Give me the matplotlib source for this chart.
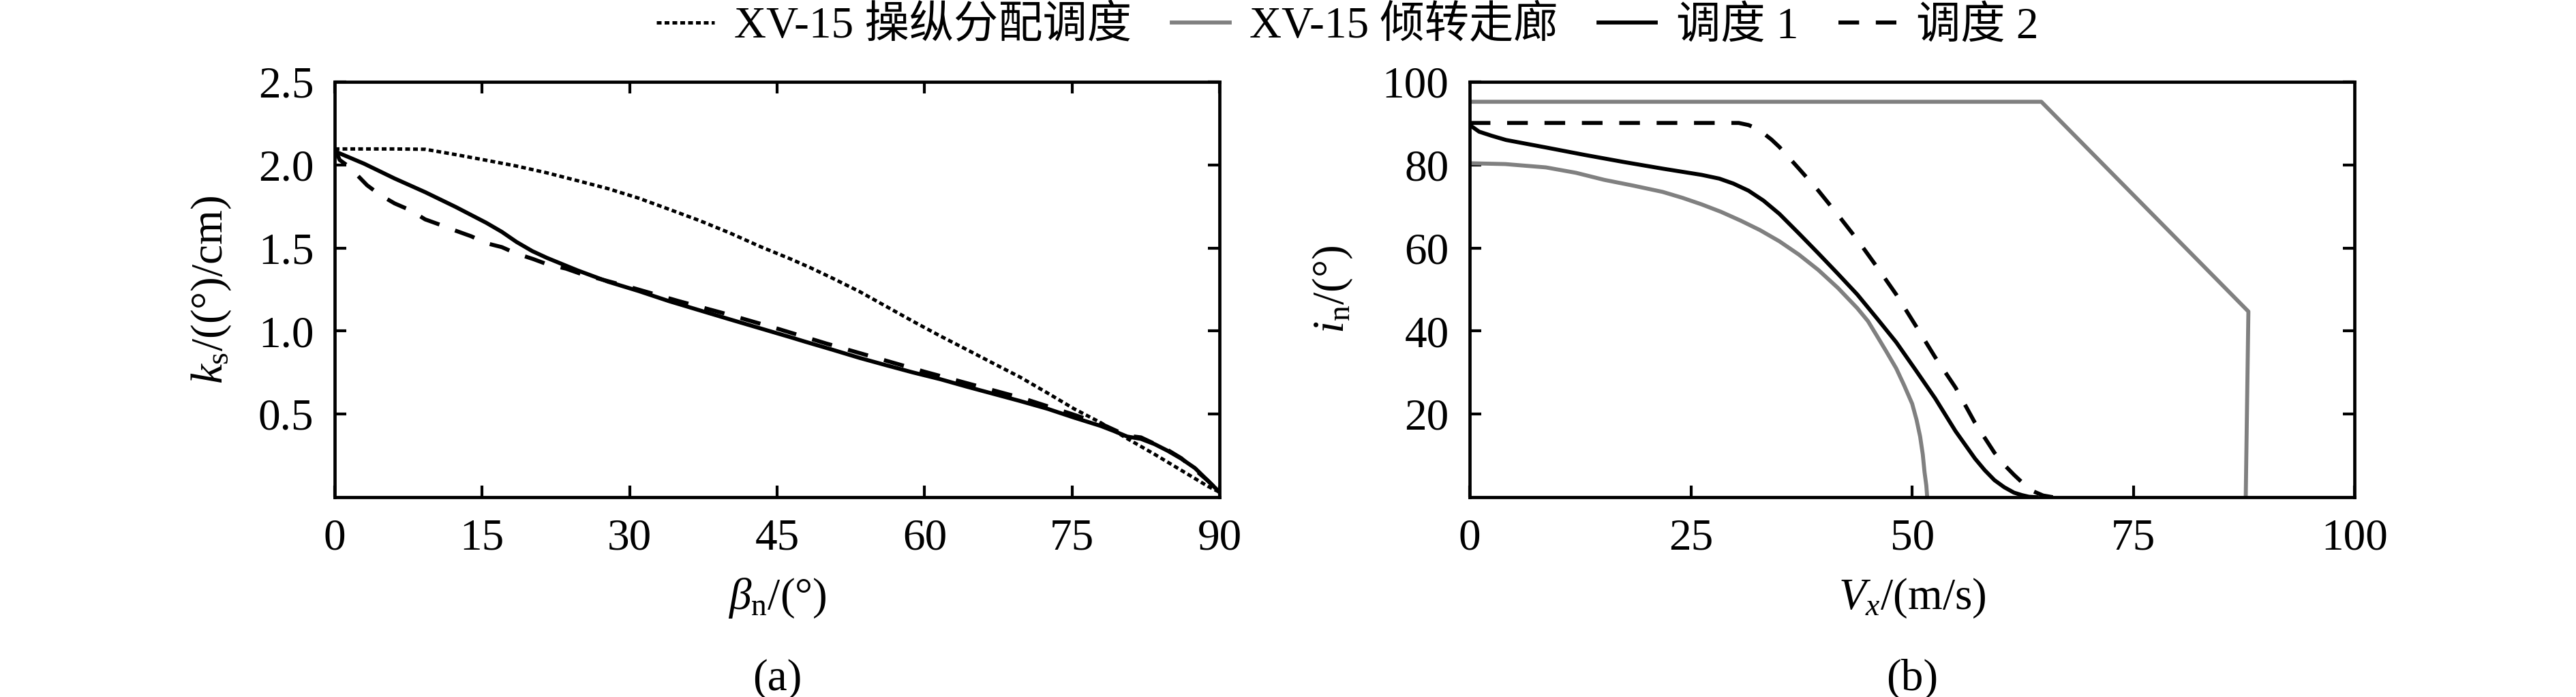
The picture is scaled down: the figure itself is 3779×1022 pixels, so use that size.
import matplotlib
matplotlib.use("Agg")
import matplotlib.pyplot as plt

plt.rcParams['font.family'] = ['Liberation Serif', 'Noto Sans CJK SC', 'DejaVu Sans']
plt.rcParams['mathtext.fontset'] = 'custom'
plt.rcParams['mathtext.rm'] = 'Liberation Serif'
plt.rcParams['mathtext.it'] = 'Liberation Serif:italic'

# (a) ks vs beta_n
beta_xv = [0, 3, 6, 9.2, 12.3, 15.4, 18.5, 21.6, 24.7, 27.8, 30.9, 34, 37.1, 40.2, 43.3, 46.4,
           48.5, 50.6, 53.4, 56.1, 58.8, 61.6, 64.3, 67, 69.7, 72.5, 75.2, 77.9, 80.6, 83.4,
           86.1, 88.8, 90]
ks_xv = [2.096, 2.096, 2.096, 2.094, 2.062, 2.028, 1.993, 1.952, 1.905, 1.857, 1.80, 1.733, 1.665,
         1.59, 1.508, 1.433, 1.378, 1.319, 1.237, 1.148, 1.059, 0.97, 0.888, 0.805, 0.723, 0.627,
         0.532, 0.449, 0.353, 0.258, 0.162, 0.066, 0.03]

beta_s1 = [0, 3, 6.1, 9.2, 12.3, 15.4, 17, 18.5, 20.1, 21.6, 24.7, 27.8, 30.9, 34, 37.1, 40.2,
           43.3, 46.4, 47.9, 50.6, 53.4, 56.1, 58.8, 61.6, 64.3, 67, 69.7, 72.5, 75.2, 77.9,
           79.3, 80.6, 82, 83.4, 84.7, 86.1, 87.5, 88.8, 90]
ks_s1 = [2.082, 2.007, 1.918, 1.836, 1.747, 1.652, 1.597, 1.536, 1.481, 1.44, 1.365, 1.297, 1.241,
         1.18, 1.125, 1.07, 1.016, 0.962, 0.935, 0.888, 0.838, 0.794, 0.751, 0.71, 0.665, 0.622,
         0.579, 0.532, 0.479, 0.429, 0.397, 0.365, 0.351, 0.319, 0.28, 0.232, 0.175, 0.10, 0.03]

beta_s2 = [0, 0.5, 1.2, 2.1, 3.3, 4.7, 6.1, 7.7, 9.2, 10.8, 12.3, 13.9, 15.4, 17, 18.5, 20.2,
           21.7, 23.5, 25, 30, 35, 40, 45, 50, 55, 60, 65, 70, 75, 78, 80.6, 82, 84.7, 86.1,
           88.8, 90]
ks_s2 = [2.10, 2.03, 2.00, 1.95, 1.877, 1.816, 1.768, 1.727, 1.672, 1.638, 1.604, 1.57, 1.529,
         1.505, 1.466, 1.433, 1.40, 1.376, 1.345, 1.265, 1.18, 1.10, 1.015, 0.925, 0.84, 0.755,
         0.675, 0.595, 0.50, 0.44, 0.37, 0.36, 0.285, 0.235, 0.10, 0.03]

# (b) i_n vs Vx
vx_cor_hi = [0, 64.6, 88, 87.7]
in_cor_hi = [95.2, 95.2, 44.7, 0]
vx_cor_lo = [0, 4, 8.6, 12, 15.2, 18.5, 21.8, 24, 26.2, 28.4, 30.6, 32.8, 35, 37.2, 39.4, 41.6,
             43.8, 45, 46, 47.1, 48.2, 49.1, 50, 50.5, 50.9, 51.2, 51.4, 51.6, 51.7]
in_cor_lo = [80.4, 80.2, 79.4, 78.1, 76.4, 75.0, 73.5, 72.1, 70.5, 68.7, 66.6, 64.3, 61.6, 58.4,
             54.7, 50.4, 45.5, 42.4, 38.9, 35.0, 31.0, 26.9, 22.5, 18.6, 14.6, 10.3, 6.0, 2.8, 0]

vx_s1 = [0, 1.06, 2.5, 4.1, 8.6, 13, 17.4, 21.8, 26.2, 28.2, 29.8, 31.5, 33.2, 35, 37.2, 39.4,
         41.6, 43.8, 46, 48.2, 50.4, 52.6, 54.9, 57.1, 58.2, 59.3, 60.4, 61.5, 62.4, 63.2, 64]
in_s1 = [89.6, 88, 87, 86, 84.2, 82.4, 80.7, 79.1, 77.6, 76.7, 75.5, 73.8, 71.4, 68.2, 63.5, 58.7,
         53.8, 48.8, 43.1, 37.3, 30.6, 23.8, 15.9, 9.3, 6.5, 4.1, 2.4, 1.1, 0.5, 0.1, 0]

vx_s2 = [0, 30.4, 31.5, 32.4, 33.2, 34.1, 35, 37.2, 39.4, 41.6, 43.8, 46, 48.2, 50.4, 52.6, 54.9,
         57.1, 59.3, 60.4, 61.5, 62.6, 63.7, 64.8, 65.9]
in_s2 = [90.1, 90.1, 89.6, 88.8, 87.6, 86.1, 84.3, 79.1, 73.8, 68.0, 62, 55.5, 48.8, 41.3, 33.7,
         26.4, 17.9, 10.7, 7.8, 5.4, 3.2, 1.4, 0.4, 0]

labels = ['XV-15 操纵分配调度', 'XV-15 倾转走廊', '调度 1', '调度 2']
gray = '#808080'
lw = 4.2
fs = 47

fig = plt.figure(figsize=(37.8, 10.22), dpi=100)
ax1 = fig.add_axes([0.1299, 0.2867, 0.3434, 0.5959])
ax2 = fig.add_axes([0.5704, 0.2867, 0.3434, 0.5959])

h_xv, = ax1.plot(beta_xv, ks_xv, color='black', lw=3.6, linestyle=(0, (1.4, 0.9)))
ax1.plot(beta_s1, ks_s1, color='black', lw=lw)
ax1.plot(beta_s2, ks_s2, color='black', lw=lw, linestyle=(0, (5.2, 4.2)))

h_cor, = ax2.plot(vx_cor_hi, in_cor_hi, color=gray, lw=lw)
ax2.plot(vx_cor_lo, in_cor_lo, color=gray, lw=lw)
h_s1, = ax2.plot(vx_s1, in_s1, color='black', lw=lw)
h_s2, = ax2.plot(vx_s2, in_s2, color='black', lw=lw, linestyle=(0, (5.2, 4.2)))

ax1.set_xlim(0, 90)
ax1.set_ylim(0, 2.5)
ax1.set_xticks([0, 15, 30, 45, 60, 75, 90])
ax1.set_yticks([0.5, 1.0, 1.5, 2.0, 2.5])
ax1.set_yticklabels(['0.5', '1.0', '1.5', '2.0', '2.5'])
ax1.tick_params(direction='in', top=True, right=True, length=12, width=3,
                labelsize=fs, pad=22)

ax2.set_xlim(0, 100)
ax2.set_ylim(0, 100)
ax2.set_xticks([0, 25, 50, 75, 100])
ax2.set_yticks([20, 40, 60, 80, 100])
ax2.tick_params(direction='in', top=False, right=True, length=12, width=3,
                labelsize=fs, pad=22)

for ax in (ax1, ax2):
    for s in ax.spines.values():
        s.set_linewidth(3.4)

ax1.set_xlabel(r'$\beta_{\mathrm{n}}$/(°)', fontsize=fs)
ax1.set_ylabel(r'$k_{\mathrm{s}}$/((°)/cm)', fontsize=fs)
ax2.set_xlabel(r'$V_{x}$/(m/s)', fontsize=fs)
ax2.set_ylabel(r'$i_{\mathrm{n}}$/(°)', fontsize=fs)
ax1.xaxis.set_label_coords(0.5, -0.19)
ax2.xaxis.set_label_coords(0.5, -0.19)
ax1.yaxis.set_label_coords(-0.115, 0.5)
ax2.yaxis.set_label_coords(-0.13, 0.5)

fig.text(0.1299 + 0.3434 / 2, 0.025, '(a)', ha='center', va='center', fontsize=fs)
fig.text(0.5704 + 0.3434 / 2, 0.025, '(b)', ha='center', va='center', fontsize=fs)

fig.legend([h_xv, h_cor, h_s1, h_s2], labels, loc='center', bbox_to_anchor=(0.523, 0.962),
           ncol=4, frameon=False, fontsize=fs, handlelength=1.3, handletextpad=0.45,
           columnspacing=0.9)

fig.savefig('out.png', dpi=100)
